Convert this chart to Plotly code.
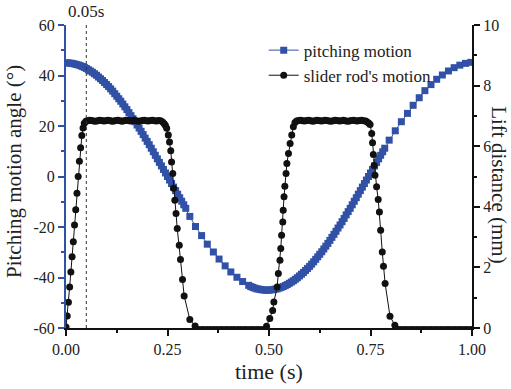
import plotly.graph_objects as go

# ---------------- data ----------------
# pitching motion (deg) - dense part 1
pitch_t1 = [0.000, 0.005, 0.010, 0.015, 0.020, 0.025, 0.030, 0.035, 0.040, 0.045,
            0.050, 0.055, 0.060, 0.065, 0.070, 0.075, 0.080, 0.085, 0.090, 0.095,
            0.100, 0.105, 0.110, 0.115, 0.120, 0.125, 0.130, 0.135, 0.140, 0.145,
            0.150, 0.155, 0.160, 0.165, 0.170, 0.175, 0.180, 0.185, 0.190, 0.195,
            0.200, 0.205, 0.210, 0.215, 0.220, 0.225, 0.230, 0.235, 0.240, 0.245,
            0.250, 0.255, 0.260, 0.265, 0.270, 0.275, 0.280, 0.285, 0.290, 0.295]
pitch_v1 = [45.0, 45.0, 44.9, 44.8, 44.6, 44.4, 44.2, 43.9, 43.6, 43.2,
            42.8, 42.3, 41.8, 41.3, 40.7, 40.1, 39.4, 38.7, 38.0, 37.2,
            36.4, 35.6, 34.7, 33.8, 32.8, 31.8, 30.8, 29.8, 28.7, 27.6,
            26.5, 25.3, 24.1, 22.9, 21.7, 20.4, 19.2, 17.9, 16.6, 15.2,
            13.9, 12.6, 11.2, 9.8, 8.4, 7.0, 5.6, 4.2, 2.8, 1.4,
            0.0, -1.4, -2.8, -4.2, -5.6, -7.0, -8.4, -9.8, -11.2, -12.6]
# sparse part 1
pitch_t2 = [0.305, 0.319, 0.334, 0.348, 0.363, 0.377, 0.392, 0.406, 0.421, 0.435, 0.450]
pitch_v2 = [-15.8, -19.8, -23.4, -26.8, -29.9, -32.7, -35.4, -37.8, -39.9, -41.6, -43.1]
# dense part 2
pitch_t3 = [0.455, 0.460, 0.465, 0.470, 0.475, 0.480, 0.485, 0.490, 0.495, 0.500,
            0.505, 0.510, 0.515, 0.520, 0.525, 0.530, 0.535, 0.540, 0.545, 0.550,
            0.555, 0.560, 0.565, 0.570, 0.575, 0.580, 0.585, 0.590, 0.595, 0.600,
            0.605, 0.610, 0.615, 0.620, 0.625, 0.630, 0.635, 0.640, 0.645, 0.650,
            0.655, 0.660, 0.665, 0.670, 0.675, 0.680, 0.685, 0.690, 0.695, 0.700,
            0.705, 0.710, 0.715, 0.720, 0.725, 0.730, 0.735, 0.740, 0.745, 0.750,
            0.755, 0.760, 0.765, 0.770, 0.775, 0.780, 0.785]
pitch_v3 = [-43.6, -43.9, -44.2, -44.5, -44.6, -44.8, -44.9, -45.0, -45.0, -45.0,
            -44.9, -44.8, -44.6, -44.5, -44.2, -43.9, -43.6, -43.2, -42.8, -42.3,
            -41.8, -41.3, -40.7, -40.1, -39.4, -38.7, -38.0, -37.2, -36.4, -35.6,
            -34.7, -33.8, -32.8, -31.8, -30.8, -29.8, -28.7, -27.6, -26.5, -25.3,
            -24.1, -22.9, -21.7, -20.4, -19.2, -17.9, -16.6, -15.2, -13.9, -12.6,
            -11.2, -9.8, -8.4, -7.0, -5.6, -4.2, -2.8, -1.4, 0.0, 1.4,
            2.8, 4.2, 5.6, 7.0, 8.4, 9.8, 11.2]
# sparse part 2
pitch_t4 = [0.796, 0.811, 0.826, 0.841, 0.855, 0.870, 0.884, 0.899, 0.913, 0.927,
            0.942, 0.956, 0.970, 0.984, 0.997]
pitch_v4 = [14.4, 18.1, 21.7, 25.0, 28.2, 31.2, 34.0, 36.4, 38.5, 40.2,
            41.8, 43.1, 44.1, 44.8, 45.2]

# slider rod's lift distance (mm)
rod_t = [0.000, 0.003, 0.006, 0.009, 0.012, 0.015, 0.018, 0.021, 0.024, 0.027,
         0.030, 0.033, 0.036, 0.039, 0.042, 0.045, 0.049,
         0.053, 0.058, 0.063, 0.068, 0.073, 0.078, 0.083, 0.088, 0.093, 0.098,
         0.103, 0.108, 0.113, 0.118, 0.123, 0.128, 0.133, 0.138, 0.143, 0.148,
         0.153, 0.158, 0.163, 0.168, 0.173, 0.178, 0.183, 0.188, 0.193, 0.198,
         0.203, 0.208, 0.213, 0.218, 0.223, 0.228, 0.233, 0.238, 0.242,
         0.245, 0.248, 0.252, 0.255, 0.258, 0.260, 0.263, 0.265, 0.268, 0.271,
         0.274, 0.279, 0.282, 0.287, 0.291, 0.305, 0.318,
         0.325, 0.333, 0.340, 0.348, 0.355, 0.363, 0.370, 0.378, 0.385, 0.393,
         0.400, 0.408, 0.415, 0.423, 0.430, 0.438, 0.445, 0.453, 0.460, 0.468,
         0.475, 0.483, 0.490,
         0.494, 0.502, 0.509, 0.512, 0.520, 0.523, 0.527, 0.529, 0.531, 0.534,
         0.535, 0.537, 0.539, 0.542, 0.544, 0.548, 0.552, 0.556, 0.560, 0.564,
         0.568, 0.573, 0.578, 0.583, 0.588, 0.593, 0.598, 0.603, 0.608, 0.613,
         0.618, 0.623, 0.628, 0.633, 0.638, 0.643, 0.648, 0.653, 0.658, 0.663,
         0.668, 0.673, 0.678, 0.683, 0.688, 0.693, 0.698, 0.703, 0.708, 0.713,
         0.718, 0.723, 0.728, 0.733, 0.738, 0.742, 0.746,
         0.749, 0.753, 0.755, 0.757, 0.759, 0.761, 0.765, 0.769, 0.772, 0.775,
         0.779, 0.782, 0.786, 0.798, 0.810,
         0.818, 0.825, 0.833, 0.840, 0.848, 0.855, 0.863, 0.870, 0.878, 0.885,
         0.893, 0.900, 0.908, 0.915, 0.923, 0.930, 0.938, 0.945, 0.953, 0.960,
         0.968, 0.975, 0.983, 0.990, 0.998]
rod_v = [0.03, 0.40, 0.85, 1.35, 1.85, 2.35, 2.85, 3.40, 3.90, 4.45,
         5.00, 5.50, 5.95, 6.35, 6.60, 6.76, 6.82,
         6.84, 6.86, 6.85, 6.83, 6.82, 6.84, 6.86, 6.85, 6.83, 6.84,
         6.86, 6.85, 6.82, 6.83, 6.85, 6.86, 6.84, 6.82, 6.84, 6.86,
         6.85, 6.83, 6.84, 6.86, 6.84, 6.82, 6.83, 6.85, 6.86, 6.84,
         6.83, 6.85, 6.86, 6.84, 6.83, 6.85, 6.84, 6.80, 6.74,
         6.68, 6.59, 6.37, 6.14, 5.85, 5.48, 5.10, 4.61, 4.22, 3.78,
         3.28, 2.73, 2.26, 1.60, 1.06, 0.28, 0.07,
         -0.05, -0.05, -0.05, -0.05, -0.05, -0.05, -0.05, -0.05, -0.05, -0.05,
         -0.05, -0.05, -0.05, -0.05, -0.05, -0.05, -0.05, -0.05, -0.05, -0.05,
         -0.05, -0.05, -0.05,
         0.06, 0.31, 0.58, 0.86, 1.35, 1.80, 2.24, 2.62, 3.06, 3.50,
         3.89, 4.33, 4.68, 5.10, 5.43, 5.76, 6.09, 6.37, 6.64, 6.78,
         6.83, 6.85, 6.86, 6.84, 6.83, 6.85, 6.86, 6.84, 6.82, 6.84,
         6.86, 6.85, 6.83, 6.84, 6.86, 6.85, 6.83, 6.82, 6.84, 6.86,
         6.85, 6.83, 6.84, 6.86, 6.84, 6.82, 6.83, 6.85, 6.86, 6.84,
         6.83, 6.85, 6.86, 6.84, 6.83, 6.80, 6.76,
         6.72, 6.42, 6.11, 5.73, 5.36, 5.04, 4.66, 4.24, 3.83, 3.23,
         2.51, 2.04, 1.47, 0.39, 0.09,
         -0.05, -0.05, -0.05, -0.05, -0.05, -0.05, -0.05, -0.05, -0.05, -0.05,
         -0.05, -0.05, -0.05, -0.05, -0.05, -0.05, -0.05, -0.05, -0.05, -0.05,
         -0.05, -0.05, -0.05, -0.05, -0.05]

x_ticks = [0.0, 0.25, 0.5, 0.75, 1.0]
x_ticktext = ["0.00", "0.25", "0.50", "0.75", "1.00"]
y_ticks = [-60, -40, -20, 0, 20, 40, 60]
y_ticktext = ["-60", "-40", "-20", "0", "20", "40", "60"]
y2_ticks = [0, 2, 4, 6, 8, 10]
y2_ticktext = ["0", "2", "4", "6", "8", "10"]
marker_time = 0.05

# ---------------- figure ----------------
BLUE = "#3151a6"
FONT = "Liberation Serif, Times New Roman, serif"

pitch_t = pitch_t1 + pitch_t2 + pitch_t3 + pitch_t4
pitch_v = pitch_v1 + pitch_v2 + pitch_v3 + pitch_v4

fig = go.Figure()
fig.add_trace(go.Scatter(
    x=pitch_t, y=pitch_v, name="pitching motion", mode="lines+markers",
    line=dict(color=BLUE, width=1),
    marker=dict(symbol="square", size=7, color=BLUE, line=dict(width=0)),
    xaxis="x", yaxis="y"))
fig.add_trace(go.Scatter(
    x=rod_t, y=rod_v, name="slider rod's motion", mode="lines+markers",
    line=dict(color="#111111", width=1),
    marker=dict(symbol="circle", size=7, color="#111111", line=dict(width=0)),
    xaxis="x", yaxis="y2"))

tickfont = dict(family=FONT, size=16, color="#222222")

fig.update_layout(
    width=511, height=389,
    margin=dict(l=66, r=39, t=25, b=61),
    paper_bgcolor="white", plot_bgcolor="white",
    font=dict(family=FONT, color="#222222"),
    showlegend=True,
    legend=dict(x=0.487, y=0.975, xanchor="left", yanchor="top",
                bgcolor="rgba(0,0,0,0)", font=dict(family=FONT, size=17, color="#222222"),
                tracegroupgap=0, itemwidth=30),
    xaxis=dict(range=[0, 1], tickvals=x_ticks, ticktext=x_ticktext,
               showline=True, linecolor="#111111", linewidth=2,
               ticks="outside", ticklen=6, tickwidth=1.5, tickcolor="#111111",
               minor=dict(dtick=0.125, tick0=0, ticks="outside", ticklen=3, tickwidth=1.5,
                          tickcolor="#111111", showgrid=False),
               showgrid=False, zeroline=False, tickfont=tickfont, anchor="y"),
    xaxis2=dict(range=[0, 1], overlaying="x", side="top", anchor="y",
                showline=True, linecolor="#111111", linewidth=2,
                ticks="inside", ticklen=5, tickwidth=1.5, tickcolor="#111111",
                dtick=0.125, tick0=0, showticklabels=False, showgrid=False, zeroline=False),
    yaxis=dict(range=[-60, 60], tickvals=y_ticks, ticktext=y_ticktext,
               showline=True, linecolor=BLUE, linewidth=2,
               ticks="outside", ticklen=6, tickwidth=1.5, tickcolor=BLUE,
               minor=dict(dtick=10, tick0=0, ticks="outside", ticklen=3, tickwidth=1.5,
                          tickcolor=BLUE, showgrid=False),
               showgrid=False, zeroline=False, tickfont=tickfont),
    yaxis2=dict(range=[0, 10], tickvals=y2_ticks, ticktext=y2_ticktext,
                overlaying="y", side="right", anchor="x",
                showline=True, linecolor="#111111", linewidth=2,
                ticks="outside", ticklen=6, tickwidth=1.5, tickcolor="#111111",
                minor=dict(dtick=1, tick0=0, ticks="outside", ticklen=3, tickwidth=1.5,
                           tickcolor="#111111", showgrid=False),
                showgrid=False, zeroline=False, tickfont=tickfont),
)

# dotted marker line at 0.05 s
fig.add_shape(type="line", xref="x", yref="paper", x0=marker_time, x1=marker_time,
              y0=0, y1=1, line=dict(color="#333333", width=1, dash="dot"))
fig.add_annotation(x=marker_time, y=1.005, xref="x", yref="paper", text="0.05s",
                   showarrow=False, xanchor="center", yanchor="bottom",
                   font=dict(family=FONT, size=17, color="#222222"))

# axis titles
fig.add_annotation(x=-0.128, y=0.515, xref="paper", yref="paper",
                   text="Pitching motion angle (°)", textangle=-90, showarrow=False,
                   xanchor="center", yanchor="middle",
                   font=dict(family=FONT, size=21, color="#222222"))
fig.add_annotation(x=0.5, y=-0.142, xref="paper", yref="paper",
                   text="time (s)", showarrow=False, xanchor="center", yanchor="middle",
                   font=dict(family=FONT, size=22, color="#222222"))
fig.add_annotation(x=1.066, y=0.472, xref="paper", yref="paper",
                   text="Lift distance (mm)", textangle=90, showarrow=False,
                   xanchor="center", yanchor="middle",
                   font=dict(family=FONT, size=21, color="#222222"))

fig.write_html("out.html")
